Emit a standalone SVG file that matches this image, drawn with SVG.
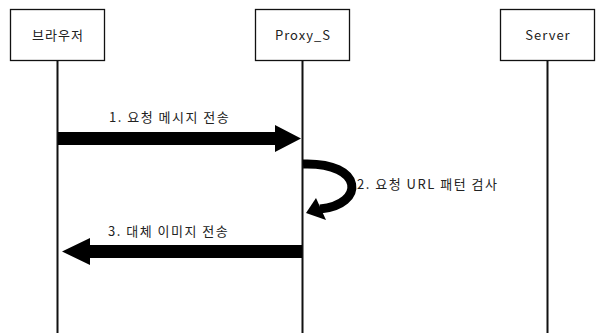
<svg xmlns="http://www.w3.org/2000/svg" width="596" height="333" viewBox="0 0 596 333">
<style>
.box{fill:#fff;stroke:#111;stroke-width:1.3}
.life{stroke:#111;stroke-width:2}
.t{font-family:"Noto Sans CJK KR","Noto Sans",sans-serif;font-size:13px;fill:#222;letter-spacing:1.5px}
.lbl{text-anchor:middle;letter-spacing:1px}
.arr{fill:#000}
</style>
<rect width="596" height="333" fill="#fff"/>
<g id="lifelines">
<line class="life" x1="57.5" y1="61" x2="57.5" y2="333"/>
<line class="life" x1="302.5" y1="61" x2="302.5" y2="333"/>
<line class="life" x1="547.5" y1="61" x2="547.5" y2="333"/>
</g>
<g id="browser"><rect class="box" x="10.5" y="9.5" width="94" height="51"/><text class="t lbl" x="58" y="40">브라우저</text></g>
<g id="proxy"><rect class="box" x="255.5" y="9.5" width="94" height="51"/><text class="t lbl" x="303" y="40">Proxy_S</text></g>
<g id="server"><rect class="box" x="500.5" y="9.5" width="94" height="51"/><text class="t lbl" x="548" y="40">Server</text></g>
<g id="connectors">
<polygon class="arr" points="58,132 275,132 275,125 301,138.5 275,152 275,145 58,145"/>
<text class="t" x="109" y="122">1. 요청 메시지 전송</text>
<path d="M303 164 C 365 162, 365 205, 320 209" fill="none" stroke="#000" stroke-width="9"/>
<polygon class="arr" points="306,213 316,198 326,220"/>
<text class="t" x="357" y="189">2. 요청 URL 패턴 검사</text>
<polygon class="arr" points="302,245 90,245 90,238 62,251.5 90,265 90,258 302,258"/>
<text class="t" x="108" y="236">3. 대체 이미지 전송</text>
</g>
</svg>
